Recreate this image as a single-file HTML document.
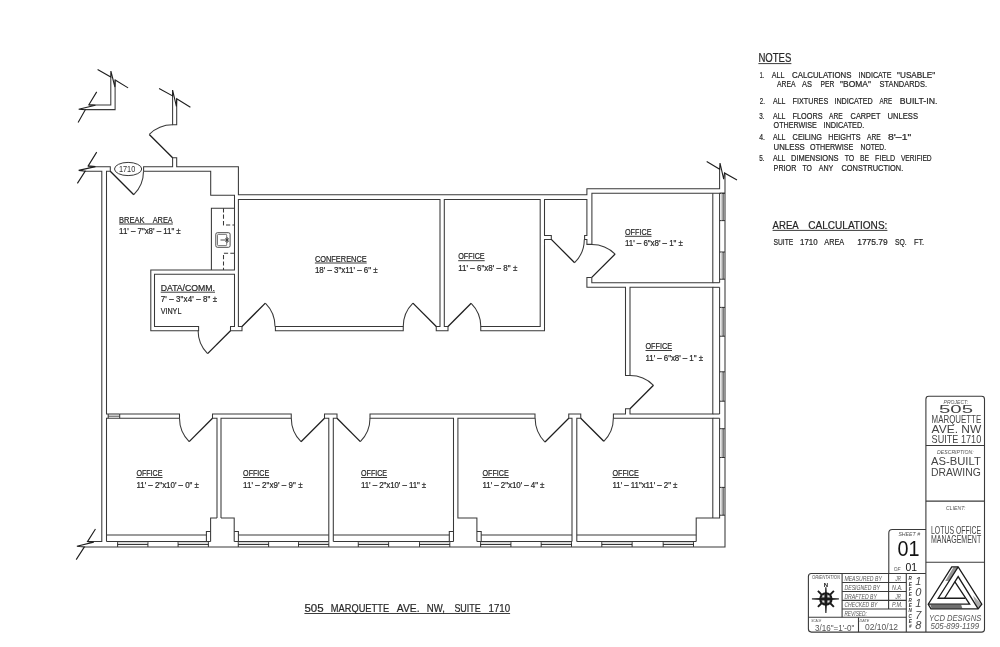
<!DOCTYPE html>
<html><head><meta charset="utf-8"><title>505 Marquette Ave. NW, Suite 1710</title>
<style>html,body{margin:0;padding:0;background:#fff}body{width:1000px;height:647px;overflow:hidden;font-family:"Liberation Sans",sans-serif}svg{display:block;will-change:transform;transform:translateZ(0)}text{white-space:pre}</style>
</head><body>
<svg width="1000" height="647" viewBox="0 0 1000 647">
<path d="M87.90,166.80 L110.30,166.80 L110.30,171.25 L106.50,171.25 L106.50,414.00 L108.20,414.00" fill="none" stroke="#383838" stroke-width="1.05" />
<path d="M84.60,171.25 L101.80,171.25 L101.80,541.50 L87.50,541.50" fill="none" stroke="#383838" stroke-width="1.05" />
<path d="M84.20,546.90 L725.00,546.90 L725.00,172.90" fill="none" stroke="#383838" stroke-width="1.05" />
<path d="M143.60,171.25 L143.60,166.80 L172.60,166.80 L172.60,157.80 L176.70,157.80 L176.70,166.80 L238.40,166.80 L238.40,194.70 L586.90,194.70 L586.90,188.70 L719.60,188.70 L719.60,169.20" fill="none" stroke="#383838" stroke-width="1.05" />
<path d="M172.60,95.90 L172.60,124.80 L176.70,124.80 L176.70,98.80" fill="none" stroke="#383838" stroke-width="1.05" />
<path d="M143.60,171.25 L210.70,171.25 L210.70,195.30 L234.50,195.30 L234.50,270.00 L150.80,270.00 L150.80,330.70 L198.60,330.70 L198.60,326.50 L154.50,326.50 L154.50,274.30 L234.50,274.30 L234.50,326.50 L230.50,326.50 L230.50,330.70 L242.00,330.70 L242.00,326.50 L238.40,326.50 L238.40,199.50 L440.00,199.50 L440.00,326.50 L436.25,326.50 L436.25,330.70 L448.00,330.70 L448.00,326.50 L444.30,326.50 L444.30,199.50 L540.20,199.50 L540.20,326.50 L480.75,326.50 L480.75,330.70 L544.50,330.70 L544.50,239.40 L551.30,239.40 L551.30,235.40 L544.50,235.40 L544.50,199.50 L586.90,199.50 L586.90,235.50 L584.60,235.50 L584.60,239.50 L586.90,239.50 L586.90,244.35 L591.90,244.35 L591.90,193.20 L725.00,193.20" fill="none" stroke="#383838" stroke-width="1.05" />
<path d="M275.40,326.50 L403.25,326.50 L403.25,330.70 L275.40,330.70 Z" fill="none" stroke="#383838" stroke-width="1.05" />
<path d="M211.40,270.00 L211.40,208.20 L234.50,208.20" fill="none" stroke="#383838" stroke-width="1.05" />
<path d="M223.50,208.20 L223.50,224.90 L234.50,224.90" fill="none" stroke="#383838" stroke-width="1.05" stroke-dasharray="4.2 2.2"/>
<path d="M234.50,253.20 L223.50,253.20 L223.50,270.00" fill="none" stroke="#383838" stroke-width="1.05" stroke-dasharray="4.2 2.2"/>
<rect x="215.8" y="232.7" width="14.3" height="14.6" rx="1.6" fill="none" stroke="#383838" stroke-width="0.9"/>
<rect x="217.5" y="234.4" width="9.2" height="11.2" rx="0.8" fill="none" stroke="#555" stroke-width="0.8"/>
<path d="M220.50,240.00 L228.60,240.00" fill="none" stroke="#383838" stroke-width="0.9" />
<path d="M227.20,237.20 L227.20,242.80" fill="none" stroke="#383838" stroke-width="0.9" />
<path d="M225.20,238.20 L229.00,241.80" fill="none" stroke="#383838" stroke-width="0.7" />
<path d="M225.20,241.80 L229.00,238.20" fill="none" stroke="#383838" stroke-width="0.7" />
<path d="M591.80,277.40 L586.90,277.40 L586.90,287.30 L625.50,287.30 L625.50,375.50 L630.00,375.50 L630.00,287.30 L712.80,287.30 L712.80,414.00 L630.00,414.00 L630.00,408.75 L625.50,408.75 L625.50,414.00 L613.40,414.00 L613.40,418.25 L712.80,418.25 L712.80,518.00" fill="none" stroke="#383838" stroke-width="1.05" />
<path d="M591.80,277.40 L591.80,282.70 L712.80,282.70 L712.80,193.20" fill="none" stroke="#383838" stroke-width="1.05" />
<path d="M719.60,193.20 L719.60,282.70" fill="none" stroke="#383838" stroke-width="1.05" />
<path d="M712.80,282.70 L719.60,282.70" fill="none" stroke="#383838" stroke-width="1.05" />
<path d="M712.80,287.30 L719.60,287.30" fill="none" stroke="#383838" stroke-width="1.05" />
<path d="M719.60,287.30 L719.60,414.00" fill="none" stroke="#383838" stroke-width="1.05" />
<path d="M712.80,414.00 L719.60,414.00" fill="none" stroke="#383838" stroke-width="1.05" />
<path d="M712.80,418.25 L719.60,418.25" fill="none" stroke="#383838" stroke-width="1.05" />
<path d="M719.60,418.25 L719.60,518.00 L696.20,518.00 L696.20,541.40" fill="none" stroke="#383838" stroke-width="1.05" />
<path d="M106.50,541.40 L106.50,418.25 L179.50,418.25 L179.50,414.00 L119.70,414.00" fill="none" stroke="#383838" stroke-width="1.05" />
<path d="M108.20,414.00 L119.70,414.00" fill="none" stroke="#383838" stroke-width="1.05" />
<path d="M108.20,414.00 L108.20,418.25" fill="none" stroke="#383838" stroke-width="1.05" />
<path d="M119.70,414.00 L119.70,418.25" fill="none" stroke="#383838" stroke-width="1.05" />
<path d="M108.20,416.20 L119.70,416.20" fill="none" stroke="#383838" stroke-width="0.9" />
<path d="M217.00,518.00 L217.00,418.25 L212.50,418.25 L212.50,414.00 L291.25,414.00 L291.25,418.25 L221.00,418.25 L221.00,518.00" fill="none" stroke="#383838" stroke-width="1.05" />
<path d="M328.80,541.40 L328.80,418.25 L324.50,418.25 L324.50,414.00 L337.00,414.00 L337.00,418.25 L333.30,418.25 L333.30,541.40" fill="none" stroke="#383838" stroke-width="1.05" />
<path d="M453.50,541.40 L453.50,418.25 L370.00,418.25 L370.00,414.00 L535.00,414.00 L535.00,418.25 L457.90,418.25 L457.90,518.00 L476.90,518.00 L476.90,541.40" fill="none" stroke="#383838" stroke-width="1.05" />
<path d="M572.00,541.40 L572.00,418.25 L568.75,418.25 L568.75,414.00 L580.75,414.00 L580.75,418.25 L576.80,418.25 L576.80,541.40" fill="none" stroke="#383838" stroke-width="1.05" />
<path d="M217.00,518.00 L210.60,518.00 L210.60,541.40" fill="none" stroke="#383838" stroke-width="1.05" />
<path d="M221.00,518.00 L234.20,518.00 L234.20,541.40" fill="none" stroke="#383838" stroke-width="1.05" />
<path d="M206.40,541.40 L206.40,531.50 L210.60,531.50" fill="none" stroke="#383838" stroke-width="1.05" />
<path d="M238.40,541.40 L238.40,531.50 L234.20,531.50" fill="none" stroke="#383838" stroke-width="1.05" />
<path d="M449.30,541.40 L449.30,531.50 L453.50,531.50" fill="none" stroke="#383838" stroke-width="1.05" />
<path d="M481.20,541.40 L481.20,531.50 L476.90,531.50" fill="none" stroke="#383838" stroke-width="1.05" />
<path d="M106.50,541.40 L210.60,541.40" fill="none" stroke="#383838" stroke-width="1.05" />
<path d="M106.50,535.00 L206.40,535.00" fill="none" stroke="#383838" stroke-width="1.05" />
<path d="M234.20,541.40 L328.80,541.40" fill="none" stroke="#383838" stroke-width="1.05" />
<path d="M238.40,535.00 L328.80,535.00" fill="none" stroke="#383838" stroke-width="1.05" />
<path d="M333.30,541.40 L453.50,541.40" fill="none" stroke="#383838" stroke-width="1.05" />
<path d="M333.30,535.00 L449.30,535.00" fill="none" stroke="#383838" stroke-width="1.05" />
<path d="M476.90,541.40 L572.00,541.40" fill="none" stroke="#383838" stroke-width="1.05" />
<path d="M481.20,535.00 L572.00,535.00" fill="none" stroke="#383838" stroke-width="1.05" />
<path d="M576.80,541.40 L696.20,541.40" fill="none" stroke="#383838" stroke-width="1.05" />
<path d="M576.80,535.00 L696.20,535.00" fill="none" stroke="#383838" stroke-width="1.05" />
<path d="M117.60,541.40 L117.60,546.90" fill="none" stroke="#383838" stroke-width="1.05" />
<path d="M147.90,541.40 L147.90,546.90" fill="none" stroke="#383838" stroke-width="1.05" />
<path d="M117.60,544.40 L147.90,544.40" fill="none" stroke="#222" stroke-width="1.0" />
<path d="M117.60,542.70 L147.90,542.70" fill="none" stroke="#aaa" stroke-width="0.6" />
<path d="M178.10,541.40 L178.10,546.90" fill="none" stroke="#383838" stroke-width="1.05" />
<path d="M208.40,541.40 L208.40,546.90" fill="none" stroke="#383838" stroke-width="1.05" />
<path d="M178.10,544.40 L208.40,544.40" fill="none" stroke="#222" stroke-width="1.0" />
<path d="M178.10,542.70 L208.40,542.70" fill="none" stroke="#aaa" stroke-width="0.6" />
<path d="M238.30,541.40 L238.30,546.90" fill="none" stroke="#383838" stroke-width="1.05" />
<path d="M268.60,541.40 L268.60,546.90" fill="none" stroke="#383838" stroke-width="1.05" />
<path d="M238.30,544.40 L268.60,544.40" fill="none" stroke="#222" stroke-width="1.0" />
<path d="M238.30,542.70 L268.60,542.70" fill="none" stroke="#aaa" stroke-width="0.6" />
<path d="M298.50,541.40 L298.50,546.90" fill="none" stroke="#383838" stroke-width="1.05" />
<path d="M328.80,541.40 L328.80,546.90" fill="none" stroke="#383838" stroke-width="1.05" />
<path d="M298.50,544.40 L328.80,544.40" fill="none" stroke="#222" stroke-width="1.0" />
<path d="M298.50,542.70 L328.80,542.70" fill="none" stroke="#aaa" stroke-width="0.6" />
<path d="M358.30,541.40 L358.30,546.90" fill="none" stroke="#383838" stroke-width="1.05" />
<path d="M388.60,541.40 L388.60,546.90" fill="none" stroke="#383838" stroke-width="1.05" />
<path d="M358.30,544.40 L388.60,544.40" fill="none" stroke="#222" stroke-width="1.0" />
<path d="M358.30,542.70 L388.60,542.70" fill="none" stroke="#aaa" stroke-width="0.6" />
<path d="M419.50,541.40 L419.50,546.90" fill="none" stroke="#383838" stroke-width="1.05" />
<path d="M449.80,541.40 L449.80,546.90" fill="none" stroke="#383838" stroke-width="1.05" />
<path d="M419.50,544.40 L449.80,544.40" fill="none" stroke="#222" stroke-width="1.0" />
<path d="M419.50,542.70 L449.80,542.70" fill="none" stroke="#aaa" stroke-width="0.6" />
<path d="M480.60,541.40 L480.60,546.90" fill="none" stroke="#383838" stroke-width="1.05" />
<path d="M510.90,541.40 L510.90,546.90" fill="none" stroke="#383838" stroke-width="1.05" />
<path d="M480.60,544.40 L510.90,544.40" fill="none" stroke="#222" stroke-width="1.0" />
<path d="M480.60,542.70 L510.90,542.70" fill="none" stroke="#aaa" stroke-width="0.6" />
<path d="M541.20,541.40 L541.20,546.90" fill="none" stroke="#383838" stroke-width="1.05" />
<path d="M571.50,541.40 L571.50,546.90" fill="none" stroke="#383838" stroke-width="1.05" />
<path d="M541.20,544.40 L571.50,544.40" fill="none" stroke="#222" stroke-width="1.0" />
<path d="M541.20,542.70 L571.50,542.70" fill="none" stroke="#aaa" stroke-width="0.6" />
<path d="M601.80,541.40 L601.80,546.90" fill="none" stroke="#383838" stroke-width="1.05" />
<path d="M632.10,541.40 L632.10,546.90" fill="none" stroke="#383838" stroke-width="1.05" />
<path d="M601.80,544.40 L632.10,544.40" fill="none" stroke="#222" stroke-width="1.0" />
<path d="M601.80,542.70 L632.10,542.70" fill="none" stroke="#aaa" stroke-width="0.6" />
<path d="M663.20,541.40 L663.20,546.90" fill="none" stroke="#383838" stroke-width="1.05" />
<path d="M693.50,541.40 L693.50,546.90" fill="none" stroke="#383838" stroke-width="1.05" />
<path d="M663.20,544.40 L693.50,544.40" fill="none" stroke="#222" stroke-width="1.0" />
<path d="M663.20,542.70 L693.50,542.70" fill="none" stroke="#aaa" stroke-width="0.6" />
<path d="M719.60,193.20 L725.00,193.20" fill="none" stroke="#383838" stroke-width="1.05" />
<path d="M719.60,220.60 L725.00,220.60" fill="none" stroke="#383838" stroke-width="1.05" />
<path d="M723.10,193.20 L723.10,220.60" fill="none" stroke="#222" stroke-width="1.0" />
<path d="M721.50,193.20 L721.50,220.60" fill="none" stroke="#aaa" stroke-width="0.6" />
<path d="M719.60,252.00 L725.00,252.00" fill="none" stroke="#383838" stroke-width="1.05" />
<path d="M719.60,279.20 L725.00,279.20" fill="none" stroke="#383838" stroke-width="1.05" />
<path d="M723.10,252.00 L723.10,279.20" fill="none" stroke="#222" stroke-width="1.0" />
<path d="M721.50,252.00 L721.50,279.20" fill="none" stroke="#aaa" stroke-width="0.6" />
<path d="M719.60,307.40 L725.00,307.40" fill="none" stroke="#383838" stroke-width="1.05" />
<path d="M719.60,336.20 L725.00,336.20" fill="none" stroke="#383838" stroke-width="1.05" />
<path d="M723.10,307.40 L723.10,336.20" fill="none" stroke="#222" stroke-width="1.0" />
<path d="M721.50,307.40 L721.50,336.20" fill="none" stroke="#aaa" stroke-width="0.6" />
<path d="M719.60,371.80 L725.00,371.80" fill="none" stroke="#383838" stroke-width="1.05" />
<path d="M719.60,401.20 L725.00,401.20" fill="none" stroke="#383838" stroke-width="1.05" />
<path d="M723.10,371.80 L723.10,401.20" fill="none" stroke="#222" stroke-width="1.0" />
<path d="M721.50,371.80 L721.50,401.20" fill="none" stroke="#aaa" stroke-width="0.6" />
<path d="M719.60,428.70 L725.00,428.70" fill="none" stroke="#383838" stroke-width="1.05" />
<path d="M719.60,457.50 L725.00,457.50" fill="none" stroke="#383838" stroke-width="1.05" />
<path d="M723.10,428.70 L723.10,457.50" fill="none" stroke="#222" stroke-width="1.0" />
<path d="M721.50,428.70 L721.50,457.50" fill="none" stroke="#aaa" stroke-width="0.6" />
<path d="M719.60,487.40 L725.00,487.40" fill="none" stroke="#383838" stroke-width="1.05" />
<path d="M719.60,515.20 L725.00,515.20" fill="none" stroke="#383838" stroke-width="1.05" />
<path d="M723.10,487.40 L723.10,515.20" fill="none" stroke="#222" stroke-width="1.0" />
<path d="M721.50,487.40 L721.50,515.20" fill="none" stroke="#aaa" stroke-width="0.6" />
<path d="M110.30,171.25 L133.78,194.73" fill="none" stroke="#1e1e1e" stroke-width="1.28"/>
<path d="M133.78,194.73 A33.2,33.2 0 0 0 143.50,171.25" fill="none" stroke="#383838" stroke-width="1.05"/>
<path d="M172.60,157.80 L149.27,134.47" fill="none" stroke="#1e1e1e" stroke-width="1.28"/>
<path d="M149.27,134.47 A33,33 0 0 1 172.60,124.80" fill="none" stroke="#383838" stroke-width="1.05"/>
<path d="M230.50,330.70 L207.59,353.61" fill="none" stroke="#1e1e1e" stroke-width="1.28"/>
<path d="M207.59,353.61 A32.4,32.4 0 0 1 198.10,330.70" fill="none" stroke="#383838" stroke-width="1.05"/>
<path d="M242.00,326.50 L265.33,303.17" fill="none" stroke="#1e1e1e" stroke-width="1.28"/>
<path d="M265.33,303.17 A33,33 0 0 1 275.00,326.50" fill="none" stroke="#383838" stroke-width="1.05"/>
<path d="M436.25,326.50 L412.92,303.17" fill="none" stroke="#1e1e1e" stroke-width="1.28"/>
<path d="M412.92,303.17 A33,33 0 0 0 403.25,326.50" fill="none" stroke="#383838" stroke-width="1.05"/>
<path d="M448.00,326.50 L471.19,303.31" fill="none" stroke="#1e1e1e" stroke-width="1.28"/>
<path d="M471.19,303.31 A32.8,32.8 0 0 1 480.80,326.50" fill="none" stroke="#383838" stroke-width="1.05"/>
<path d="M551.30,239.40 L574.63,262.73" fill="none" stroke="#1e1e1e" stroke-width="1.28"/>
<path d="M574.63,262.73 A33,33 0 0 0 584.30,239.40" fill="none" stroke="#383838" stroke-width="1.05"/>
<path d="M591.80,277.40 L615.13,254.07" fill="none" stroke="#1e1e1e" stroke-width="1.28"/>
<path d="M615.13,254.07 A33,33 0 0 0 591.80,244.40" fill="none" stroke="#383838" stroke-width="1.05"/>
<path d="M630.00,408.75 L653.48,385.27" fill="none" stroke="#1e1e1e" stroke-width="1.28"/>
<path d="M653.48,385.27 A33.2,33.2 0 0 0 630.00,375.55" fill="none" stroke="#383838" stroke-width="1.05"/>
<path d="M212.50,418.25 L189.17,441.58" fill="none" stroke="#1e1e1e" stroke-width="1.28"/>
<path d="M189.17,441.58 A33,33 0 0 1 179.50,418.25" fill="none" stroke="#383838" stroke-width="1.05"/>
<path d="M324.50,418.25 L301.02,441.73" fill="none" stroke="#1e1e1e" stroke-width="1.28"/>
<path d="M301.02,441.73 A33.2,33.2 0 0 1 291.30,418.25" fill="none" stroke="#383838" stroke-width="1.05"/>
<path d="M337.00,418.25 L360.33,441.58" fill="none" stroke="#1e1e1e" stroke-width="1.28"/>
<path d="M360.33,441.58 A33,33 0 0 0 370.00,418.25" fill="none" stroke="#383838" stroke-width="1.05"/>
<path d="M568.75,418.25 L544.99,442.01" fill="none" stroke="#1e1e1e" stroke-width="1.28"/>
<path d="M544.99,442.01 A33.6,33.6 0 0 1 535.15,418.25" fill="none" stroke="#383838" stroke-width="1.05"/>
<path d="M580.75,418.25 L603.80,441.30" fill="none" stroke="#1e1e1e" stroke-width="1.28"/>
<path d="M603.80,441.30 A32.6,32.6 0 0 0 613.35,418.25" fill="none" stroke="#383838" stroke-width="1.05"/>
<path d="M97.60,69.50 L110.80,77.10 L110.90,71.10 L114.90,87.00 L115.20,80.00 L128.10,87.90" fill="none" stroke="#1e1e1e" stroke-width="1.1" />
<path d="M110.80,77.10 L110.80,104.90 L88.90,104.90" fill="none" stroke="#383838" stroke-width="1.05" />
<path d="M115.10,80.00 L115.10,109.60 L85.10,109.60" fill="none" stroke="#383838" stroke-width="1.05" />
<path d="M96.70,91.90 L88.90,104.70 L95.40,105.30 L78.70,109.20 L85.30,109.70 L78.10,122.50" fill="none" stroke="#1e1e1e" stroke-width="1.1" />
<path d="M96.70,152.10 L88.20,165.90 L95.40,166.60 L78.70,170.40 L85.20,171.10 L77.40,183.40" fill="none" stroke="#1e1e1e" stroke-width="1.1" />
<path d="M159.10,88.40 L172.60,95.90 L172.60,90.00 L176.40,106.40 L176.70,98.80 L190.40,107.20" fill="none" stroke="#1e1e1e" stroke-width="1.1" />
<path d="M706.70,161.50 L719.70,169.20 L720.00,163.00 L723.70,179.10 L724.50,172.90 L737.00,180.10" fill="none" stroke="#1e1e1e" stroke-width="1.1" />
<path d="M95.45,529.00 L87.50,541.60 L93.75,542.10 L76.90,546.30 L84.40,546.90 L76.20,559.65" fill="none" stroke="#1e1e1e" stroke-width="1.1" />
<ellipse cx="128.1" cy="169.0" rx="13.6" ry="6.6" fill="#fff" stroke="#383838" stroke-width="1"/>
<text x="118.9" y="172.4" textLength="16.4" lengthAdjust="spacingAndGlyphs" font-family="'Liberation Sans', sans-serif" font-size="9.2" fill="#333" font-weight="400" text-anchor="start" >1710</text>
<text x="119.1" y="222.7" textLength="25.5" lengthAdjust="spacingAndGlyphs" font-family="'Liberation Sans', sans-serif" font-size="9.5" fill="#262626" font-weight="400" text-anchor="start"  stroke="#262626" stroke-width="0.22">BREAK</text>
<text x="152.7" y="222.7" textLength="20.1" lengthAdjust="spacingAndGlyphs" font-family="'Liberation Sans', sans-serif" font-size="9.5" fill="#262626" font-weight="400" text-anchor="start"  stroke="#262626" stroke-width="0.22">AREA</text>
<path d="M119.10,224.00 L172.80,224.00" fill="none" stroke="#262626" stroke-width="0.9" />
<text transform="translate(119.1,234.2) scale(0.86,1)" x="0" y="0" textLength="71.7" lengthAdjust="spacing" font-family="'Liberation Sans', sans-serif" font-size="9.3" fill="#262626"  stroke="#262626" stroke-width="0.22">11' – 7"x8' – 11" ±</text>
<text x="160.7" y="290.9" textLength="54.3" lengthAdjust="spacingAndGlyphs" font-family="'Liberation Sans', sans-serif" font-size="9.6" fill="#262626" font-weight="400" text-anchor="start"  stroke="#262626" stroke-width="0.22">DATA/COMM.</text>
<path d="M160.70,292.20 L215.00,292.20" fill="none" stroke="#262626" stroke-width="0.9" />
<text transform="translate(160.7,302.1) scale(0.86,1)" x="0" y="0" textLength="65.7" lengthAdjust="spacing" font-family="'Liberation Sans', sans-serif" font-size="9.3" fill="#262626"  stroke="#262626" stroke-width="0.22">7' – 3"x4' – 8" ±</text>
<text x="160.7" y="314.0" textLength="20.7" lengthAdjust="spacingAndGlyphs" font-family="'Liberation Sans', sans-serif" font-size="9.4" fill="#262626" font-weight="400" text-anchor="start"  stroke="#262626" stroke-width="0.22">VINYL</text>
<text x="314.9" y="261.7" textLength="51.8" lengthAdjust="spacingAndGlyphs" font-family="'Liberation Sans', sans-serif" font-size="9.5" fill="#262626" font-weight="400" text-anchor="start"  stroke="#262626" stroke-width="0.22">CONFERENCE</text>
<path d="M314.90,263.00 L366.70,263.00" fill="none" stroke="#262626" stroke-width="0.9" />
<text transform="translate(314.9,273.0) scale(0.86,1)" x="0" y="0" textLength="73.0" lengthAdjust="spacing" font-family="'Liberation Sans', sans-serif" font-size="9.3" fill="#262626"  stroke="#262626" stroke-width="0.22">18' – 3"x11' – 6" ±</text>
<text x="458.2" y="259.4" textLength="26.5" lengthAdjust="spacingAndGlyphs" font-family="'Liberation Sans', sans-serif" font-size="9.5" fill="#262626" font-weight="400" text-anchor="start"  stroke="#262626" stroke-width="0.22">OFFICE</text>
<path d="M458.20,260.70 L484.70,260.70" fill="none" stroke="#262626" stroke-width="0.9" />
<text transform="translate(458.2,270.7) scale(0.86,1)" x="0" y="0" textLength="68.7" lengthAdjust="spacing" font-family="'Liberation Sans', sans-serif" font-size="9.3" fill="#262626"  stroke="#262626" stroke-width="0.22">11' – 6"x8' – 8" ±</text>
<text x="625.0" y="235.0" textLength="26.5" lengthAdjust="spacingAndGlyphs" font-family="'Liberation Sans', sans-serif" font-size="9.5" fill="#262626" font-weight="400" text-anchor="start"  stroke="#262626" stroke-width="0.22">OFFICE</text>
<path d="M625.00,236.30 L651.50,236.30" fill="none" stroke="#262626" stroke-width="0.9" />
<text transform="translate(625.0,246.3) scale(0.86,1)" x="0" y="0" textLength="67.4" lengthAdjust="spacing" font-family="'Liberation Sans', sans-serif" font-size="9.3" fill="#262626"  stroke="#262626" stroke-width="0.22">11' – 6"x8' – 1" ±</text>
<text x="645.5" y="349.2" textLength="26.5" lengthAdjust="spacingAndGlyphs" font-family="'Liberation Sans', sans-serif" font-size="9.5" fill="#262626" font-weight="400" text-anchor="start"  stroke="#262626" stroke-width="0.22">OFFICE</text>
<path d="M645.50,350.50 L672.00,350.50" fill="none" stroke="#262626" stroke-width="0.9" />
<text transform="translate(645.5,360.5) scale(0.86,1)" x="0" y="0" textLength="66.9" lengthAdjust="spacing" font-family="'Liberation Sans', sans-serif" font-size="9.3" fill="#262626"  stroke="#262626" stroke-width="0.22">11' – 6"x8' – 1" ±</text>
<text x="136.4" y="476.2" textLength="26.1" lengthAdjust="spacingAndGlyphs" font-family="'Liberation Sans', sans-serif" font-size="9.5" fill="#262626" font-weight="400" text-anchor="start"  stroke="#262626" stroke-width="0.22">OFFICE</text>
<path d="M136.40,477.50 L162.50,477.50" fill="none" stroke="#262626" stroke-width="0.9" />
<text transform="translate(136.4,487.5) scale(0.86,1)" x="0" y="0" textLength="72.8" lengthAdjust="spacing" font-family="'Liberation Sans', sans-serif" font-size="9.3" fill="#262626"  stroke="#262626" stroke-width="0.22">11' – 2"x10' – 0" ±</text>
<text x="243.1" y="476.2" textLength="26.1" lengthAdjust="spacingAndGlyphs" font-family="'Liberation Sans', sans-serif" font-size="9.5" fill="#262626" font-weight="400" text-anchor="start"  stroke="#262626" stroke-width="0.22">OFFICE</text>
<path d="M243.10,477.50 L269.20,477.50" fill="none" stroke="#262626" stroke-width="0.9" />
<text transform="translate(243.1,487.5) scale(0.86,1)" x="0" y="0" textLength="69.2" lengthAdjust="spacing" font-family="'Liberation Sans', sans-serif" font-size="9.3" fill="#262626"  stroke="#262626" stroke-width="0.22">11' – 2"x9' – 9" ±</text>
<text x="361.0" y="476.2" textLength="26.1" lengthAdjust="spacingAndGlyphs" font-family="'Liberation Sans', sans-serif" font-size="9.5" fill="#262626" font-weight="400" text-anchor="start"  stroke="#262626" stroke-width="0.22">OFFICE</text>
<path d="M361.00,477.50 L387.10,477.50" fill="none" stroke="#262626" stroke-width="0.9" />
<text transform="translate(361.0,487.5) scale(0.86,1)" x="0" y="0" textLength="75.9" lengthAdjust="spacing" font-family="'Liberation Sans', sans-serif" font-size="9.3" fill="#262626"  stroke="#262626" stroke-width="0.22">11' – 2"x10' – 11" ±</text>
<text x="482.5" y="476.2" textLength="26.2" lengthAdjust="spacingAndGlyphs" font-family="'Liberation Sans', sans-serif" font-size="9.5" fill="#262626" font-weight="400" text-anchor="start"  stroke="#262626" stroke-width="0.22">OFFICE</text>
<path d="M482.50,477.50 L508.70,477.50" fill="none" stroke="#262626" stroke-width="0.9" />
<text transform="translate(482.5,487.5) scale(0.86,1)" x="0" y="0" textLength="72.1" lengthAdjust="spacing" font-family="'Liberation Sans', sans-serif" font-size="9.3" fill="#262626"  stroke="#262626" stroke-width="0.22">11' – 2"x10' – 4" ±</text>
<text x="612.5" y="476.2" textLength="26.2" lengthAdjust="spacingAndGlyphs" font-family="'Liberation Sans', sans-serif" font-size="9.5" fill="#262626" font-weight="400" text-anchor="start"  stroke="#262626" stroke-width="0.22">OFFICE</text>
<path d="M612.50,477.50 L638.70,477.50" fill="none" stroke="#262626" stroke-width="0.9" />
<text transform="translate(612.5,487.5) scale(0.86,1)" x="0" y="0" textLength="75.6" lengthAdjust="spacing" font-family="'Liberation Sans', sans-serif" font-size="9.3" fill="#262626"  stroke="#262626" stroke-width="0.22">11' – 11"x11' – 2" ±</text>
<text x="304.4" y="612.1" textLength="19.2" lengthAdjust="spacingAndGlyphs" font-family="'Liberation Sans', sans-serif" font-size="11.8" fill="#262626" font-weight="400" text-anchor="start"  stroke="#262626" stroke-width="0.22">505</text>
<text x="330.8" y="612.1" textLength="58.3" lengthAdjust="spacingAndGlyphs" font-family="'Liberation Sans', sans-serif" font-size="11.8" fill="#262626" font-weight="400" text-anchor="start"  stroke="#262626" stroke-width="0.22">MARQUETTE</text>
<text x="396.8" y="612.1" textLength="22.8" lengthAdjust="spacingAndGlyphs" font-family="'Liberation Sans', sans-serif" font-size="11.8" fill="#262626" font-weight="400" text-anchor="start"  stroke="#262626" stroke-width="0.22">AVE.</text>
<text x="426.8" y="612.1" textLength="18.0" lengthAdjust="spacingAndGlyphs" font-family="'Liberation Sans', sans-serif" font-size="11.8" fill="#262626" font-weight="400" text-anchor="start"  stroke="#262626" stroke-width="0.22">NW,</text>
<text x="454.4" y="612.1" textLength="26.4" lengthAdjust="spacingAndGlyphs" font-family="'Liberation Sans', sans-serif" font-size="11.8" fill="#262626" font-weight="400" text-anchor="start"  stroke="#262626" stroke-width="0.22">SUITE</text>
<text x="488.5" y="612.1" textLength="21.6" lengthAdjust="spacingAndGlyphs" font-family="'Liberation Sans', sans-serif" font-size="11.8" fill="#262626" font-weight="400" text-anchor="start"  stroke="#262626" stroke-width="0.22">1710</text>
<path d="M304.40,613.50 L510.10,613.50" fill="none" stroke="#262626" stroke-width="0.9" />
<text x="758.4" y="62.0" textLength="33.0" lengthAdjust="spacingAndGlyphs" font-family="'Liberation Sans', sans-serif" font-size="12.0" fill="#262626" font-weight="400" text-anchor="start"  stroke="#262626" stroke-width="0.22">NOTES</text>
<path d="M758.40,63.60 L791.40,63.60" fill="none" stroke="#262626" stroke-width="0.9" />
<text x="759.8" y="77.7" textLength="4.4" lengthAdjust="spacingAndGlyphs" font-family="'Liberation Sans', sans-serif" font-size="9.2" fill="#262626" font-weight="400" text-anchor="start"  stroke="#262626" stroke-width="0.22">1.</text>
<text x="771.7" y="77.7" textLength="12.8" lengthAdjust="spacingAndGlyphs" font-family="'Liberation Sans', sans-serif" font-size="9.2" fill="#262626" font-weight="400" text-anchor="start"  stroke="#262626" stroke-width="0.22">ALL</text>
<text x="792.0" y="77.7" textLength="59.5" lengthAdjust="spacingAndGlyphs" font-family="'Liberation Sans', sans-serif" font-size="9.2" fill="#262626" font-weight="400" text-anchor="start"  stroke="#262626" stroke-width="0.22">CALCULATIONS</text>
<text x="858.6" y="77.7" textLength="32.8" lengthAdjust="spacingAndGlyphs" font-family="'Liberation Sans', sans-serif" font-size="9.2" fill="#262626" font-weight="400" text-anchor="start"  stroke="#262626" stroke-width="0.22">INDICATE</text>
<text x="897.1" y="77.7" textLength="38.0" lengthAdjust="spacingAndGlyphs" font-family="'Liberation Sans', sans-serif" font-size="9.2" fill="#262626" font-weight="400" text-anchor="start"  stroke="#262626" stroke-width="0.22">"USABLE"</text>
<text x="776.9" y="87.0" textLength="18.6" lengthAdjust="spacingAndGlyphs" font-family="'Liberation Sans', sans-serif" font-size="9.2" fill="#262626" font-weight="400" text-anchor="start"  stroke="#262626" stroke-width="0.22">AREA</text>
<text x="802.1" y="87.0" textLength="9.9" lengthAdjust="spacingAndGlyphs" font-family="'Liberation Sans', sans-serif" font-size="9.2" fill="#262626" font-weight="400" text-anchor="start"  stroke="#262626" stroke-width="0.22">AS</text>
<text x="820.6" y="87.0" textLength="13.8" lengthAdjust="spacingAndGlyphs" font-family="'Liberation Sans', sans-serif" font-size="9.2" fill="#262626" font-weight="400" text-anchor="start"  stroke="#262626" stroke-width="0.22">PER</text>
<text x="840.1" y="87.0" textLength="30.8" lengthAdjust="spacingAndGlyphs" font-family="'Liberation Sans', sans-serif" font-size="9.2" fill="#262626" font-weight="400" text-anchor="start"  stroke="#262626" stroke-width="0.22">"BOMA"</text>
<text x="879.5" y="87.0" textLength="47.5" lengthAdjust="spacingAndGlyphs" font-family="'Liberation Sans', sans-serif" font-size="9.2" fill="#262626" font-weight="400" text-anchor="start"  stroke="#262626" stroke-width="0.22">STANDARDS.</text>
<text x="759.8" y="103.8" textLength="5.1" lengthAdjust="spacingAndGlyphs" font-family="'Liberation Sans', sans-serif" font-size="9.2" fill="#262626" font-weight="400" text-anchor="start"  stroke="#262626" stroke-width="0.22">2.</text>
<text x="773.0" y="103.8" textLength="12.4" lengthAdjust="spacingAndGlyphs" font-family="'Liberation Sans', sans-serif" font-size="9.2" fill="#262626" font-weight="400" text-anchor="start"  stroke="#262626" stroke-width="0.22">ALL</text>
<text x="792.6" y="103.8" textLength="35.6" lengthAdjust="spacingAndGlyphs" font-family="'Liberation Sans', sans-serif" font-size="9.2" fill="#262626" font-weight="400" text-anchor="start"  stroke="#262626" stroke-width="0.22">FIXTURES</text>
<text x="834.4" y="103.8" textLength="38.4" lengthAdjust="spacingAndGlyphs" font-family="'Liberation Sans', sans-serif" font-size="9.2" fill="#262626" font-weight="400" text-anchor="start"  stroke="#262626" stroke-width="0.22">INDICATED</text>
<text x="879.5" y="103.8" textLength="12.7" lengthAdjust="spacingAndGlyphs" font-family="'Liberation Sans', sans-serif" font-size="9.2" fill="#262626" font-weight="400" text-anchor="start"  stroke="#262626" stroke-width="0.22">ARE</text>
<text x="899.8" y="103.8" textLength="37.6" lengthAdjust="spacingAndGlyphs" font-family="'Liberation Sans', sans-serif" font-size="9.2" fill="#262626" font-weight="400" text-anchor="start"  stroke="#262626" stroke-width="0.22">BUILT-IN.</text>
<text x="759.2" y="118.5" textLength="5.3" lengthAdjust="spacingAndGlyphs" font-family="'Liberation Sans', sans-serif" font-size="9.2" fill="#262626" font-weight="400" text-anchor="start"  stroke="#262626" stroke-width="0.22">3.</text>
<text x="773.0" y="118.5" textLength="12.4" lengthAdjust="spacingAndGlyphs" font-family="'Liberation Sans', sans-serif" font-size="9.2" fill="#262626" font-weight="400" text-anchor="start"  stroke="#262626" stroke-width="0.22">ALL</text>
<text x="792.6" y="118.5" textLength="29.9" lengthAdjust="spacingAndGlyphs" font-family="'Liberation Sans', sans-serif" font-size="9.2" fill="#262626" font-weight="400" text-anchor="start"  stroke="#262626" stroke-width="0.22">FLOORS</text>
<text x="829.1" y="118.5" textLength="13.7" lengthAdjust="spacingAndGlyphs" font-family="'Liberation Sans', sans-serif" font-size="9.2" fill="#262626" font-weight="400" text-anchor="start"  stroke="#262626" stroke-width="0.22">ARE</text>
<text x="850.6" y="118.5" textLength="29.8" lengthAdjust="spacingAndGlyphs" font-family="'Liberation Sans', sans-serif" font-size="9.2" fill="#262626" font-weight="400" text-anchor="start"  stroke="#262626" stroke-width="0.22">CARPET</text>
<text x="887.6" y="118.5" textLength="30.4" lengthAdjust="spacingAndGlyphs" font-family="'Liberation Sans', sans-serif" font-size="9.2" fill="#262626" font-weight="400" text-anchor="start"  stroke="#262626" stroke-width="0.22">UNLESS</text>
<text x="773.6" y="128.4" textLength="43.1" lengthAdjust="spacingAndGlyphs" font-family="'Liberation Sans', sans-serif" font-size="9.2" fill="#262626" font-weight="400" text-anchor="start"  stroke="#262626" stroke-width="0.22">OTHERWISE</text>
<text x="823.4" y="128.4" textLength="40.9" lengthAdjust="spacingAndGlyphs" font-family="'Liberation Sans', sans-serif" font-size="9.2" fill="#262626" font-weight="400" text-anchor="start"  stroke="#262626" stroke-width="0.22">INDICATED.</text>
<text x="759.2" y="140.0" textLength="5.7" lengthAdjust="spacingAndGlyphs" font-family="'Liberation Sans', sans-serif" font-size="9.2" fill="#262626" font-weight="400" text-anchor="start"  stroke="#262626" stroke-width="0.22">4.</text>
<text x="773.0" y="140.0" textLength="12.4" lengthAdjust="spacingAndGlyphs" font-family="'Liberation Sans', sans-serif" font-size="9.2" fill="#262626" font-weight="400" text-anchor="start"  stroke="#262626" stroke-width="0.22">ALL</text>
<text x="792.6" y="140.0" textLength="29.3" lengthAdjust="spacingAndGlyphs" font-family="'Liberation Sans', sans-serif" font-size="9.2" fill="#262626" font-weight="400" text-anchor="start"  stroke="#262626" stroke-width="0.22">CEILING</text>
<text x="828.2" y="140.0" textLength="32.3" lengthAdjust="spacingAndGlyphs" font-family="'Liberation Sans', sans-serif" font-size="9.2" fill="#262626" font-weight="400" text-anchor="start"  stroke="#262626" stroke-width="0.22">HEIGHTS</text>
<text x="867.1" y="140.0" textLength="13.7" lengthAdjust="spacingAndGlyphs" font-family="'Liberation Sans', sans-serif" font-size="9.2" fill="#262626" font-weight="400" text-anchor="start"  stroke="#262626" stroke-width="0.22">ARE</text>
<text x="888.0" y="140.0" textLength="23.2" lengthAdjust="spacingAndGlyphs" font-family="'Liberation Sans', sans-serif" font-size="9.2" fill="#262626" font-weight="400" text-anchor="start"  stroke="#262626" stroke-width="0.22">8'–1"</text>
<text x="773.6" y="149.8" textLength="31.2" lengthAdjust="spacingAndGlyphs" font-family="'Liberation Sans', sans-serif" font-size="9.2" fill="#262626" font-weight="400" text-anchor="start"  stroke="#262626" stroke-width="0.22">UNLESS</text>
<text x="810.1" y="149.8" textLength="43.3" lengthAdjust="spacingAndGlyphs" font-family="'Liberation Sans', sans-serif" font-size="9.2" fill="#262626" font-weight="400" text-anchor="start"  stroke="#262626" stroke-width="0.22">OTHERWISE</text>
<text x="860.5" y="149.8" textLength="25.6" lengthAdjust="spacingAndGlyphs" font-family="'Liberation Sans', sans-serif" font-size="9.2" fill="#262626" font-weight="400" text-anchor="start"  stroke="#262626" stroke-width="0.22">NOTED.</text>
<text x="759.2" y="160.6" textLength="5.3" lengthAdjust="spacingAndGlyphs" font-family="'Liberation Sans', sans-serif" font-size="9.2" fill="#262626" font-weight="400" text-anchor="start"  stroke="#262626" stroke-width="0.22">5.</text>
<text x="773.0" y="160.6" textLength="12.4" lengthAdjust="spacingAndGlyphs" font-family="'Liberation Sans', sans-serif" font-size="9.2" fill="#262626" font-weight="400" text-anchor="start"  stroke="#262626" stroke-width="0.22">ALL</text>
<text x="791.1" y="160.6" textLength="47.5" lengthAdjust="spacingAndGlyphs" font-family="'Liberation Sans', sans-serif" font-size="9.2" fill="#262626" font-weight="400" text-anchor="start"  stroke="#262626" stroke-width="0.22">DIMENSIONS</text>
<text x="844.7" y="160.6" textLength="9.5" lengthAdjust="spacingAndGlyphs" font-family="'Liberation Sans', sans-serif" font-size="9.2" fill="#262626" font-weight="400" text-anchor="start"  stroke="#262626" stroke-width="0.22">TO</text>
<text x="859.9" y="160.6" textLength="9.1" lengthAdjust="spacingAndGlyphs" font-family="'Liberation Sans', sans-serif" font-size="9.2" fill="#262626" font-weight="400" text-anchor="start"  stroke="#262626" stroke-width="0.22">BE</text>
<text x="875.1" y="160.6" textLength="20.1" lengthAdjust="spacingAndGlyphs" font-family="'Liberation Sans', sans-serif" font-size="9.2" fill="#262626" font-weight="400" text-anchor="start"  stroke="#262626" stroke-width="0.22">FIELD</text>
<text x="900.9" y="160.6" textLength="30.8" lengthAdjust="spacingAndGlyphs" font-family="'Liberation Sans', sans-serif" font-size="9.2" fill="#262626" font-weight="400" text-anchor="start"  stroke="#262626" stroke-width="0.22">VERIFIED</text>
<text x="773.6" y="170.5" textLength="22.8" lengthAdjust="spacingAndGlyphs" font-family="'Liberation Sans', sans-serif" font-size="9.2" fill="#262626" font-weight="400" text-anchor="start"  stroke="#262626" stroke-width="0.22">PRIOR</text>
<text x="802.5" y="170.5" textLength="9.5" lengthAdjust="spacingAndGlyphs" font-family="'Liberation Sans', sans-serif" font-size="9.2" fill="#262626" font-weight="400" text-anchor="start"  stroke="#262626" stroke-width="0.22">TO</text>
<text x="818.7" y="170.5" textLength="14.6" lengthAdjust="spacingAndGlyphs" font-family="'Liberation Sans', sans-serif" font-size="9.2" fill="#262626" font-weight="400" text-anchor="start"  stroke="#262626" stroke-width="0.22">ANY</text>
<text x="841.5" y="170.5" textLength="61.7" lengthAdjust="spacingAndGlyphs" font-family="'Liberation Sans', sans-serif" font-size="9.2" fill="#262626" font-weight="400" text-anchor="start"  stroke="#262626" stroke-width="0.22">CONSTRUCTION.</text>
<text x="772.6" y="228.9" textLength="26.1" lengthAdjust="spacingAndGlyphs" font-family="'Liberation Sans', sans-serif" font-size="11.4" fill="#262626" font-weight="400" text-anchor="start"  stroke="#262626" stroke-width="0.22">AREA</text>
<text x="808.2" y="228.9" textLength="79.2" lengthAdjust="spacingAndGlyphs" font-family="'Liberation Sans', sans-serif" font-size="11.4" fill="#262626" font-weight="400" text-anchor="start"  stroke="#262626" stroke-width="0.22">CALCULATIONS:</text>
<path d="M772.60,230.40 L887.40,230.40" fill="none" stroke="#262626" stroke-width="0.9" />
<text x="773.5" y="244.6" textLength="19.8" lengthAdjust="spacingAndGlyphs" font-family="'Liberation Sans', sans-serif" font-size="9.4" fill="#262626" font-weight="400" text-anchor="start"  stroke="#262626" stroke-width="0.22">SUITE</text>
<text x="800.0" y="244.6" textLength="17.6" lengthAdjust="spacingAndGlyphs" font-family="'Liberation Sans', sans-serif" font-size="9.4" fill="#262626" font-weight="400" text-anchor="start"  stroke="#262626" stroke-width="0.22">1710</text>
<text x="824.3" y="244.6" textLength="19.9" lengthAdjust="spacingAndGlyphs" font-family="'Liberation Sans', sans-serif" font-size="9.4" fill="#262626" font-weight="400" text-anchor="start"  stroke="#262626" stroke-width="0.22">AREA</text>
<text x="857.2" y="244.6" textLength="30.6" lengthAdjust="spacingAndGlyphs" font-family="'Liberation Sans', sans-serif" font-size="9.4" fill="#262626" font-weight="400" text-anchor="start"  stroke="#262626" stroke-width="0.22">1775.79</text>
<text x="895.0" y="244.6" textLength="11.7" lengthAdjust="spacingAndGlyphs" font-family="'Liberation Sans', sans-serif" font-size="9.4" fill="#262626" font-weight="400" text-anchor="start"  stroke="#262626" stroke-width="0.22">SQ.</text>
<text x="913.9" y="244.6" textLength="10.2" lengthAdjust="spacingAndGlyphs" font-family="'Liberation Sans', sans-serif" font-size="9.4" fill="#262626" font-weight="400" text-anchor="start"  stroke="#262626" stroke-width="0.22">FT.</text>
<path d="M925.9,573.5 L925.9,399.2 Q925.9,396.3 928.8,396.3 L981.6,396.3 Q984.5,396.3 984.5,399.2 L984.5,629.2 Q984.5,632.1 981.6,632.1 L811.4,632.1 Q808.4,632.1 808.4,629.1 L808.4,576.5 Q808.4,573.5 811.4,573.5 L888.8,573.5 L888.8,533.0 Q888.8,529.5 892.3,529.5 L925.9,529.5" fill="none" stroke="#3a3a3a" stroke-width="1.1"/>
<path d="M925.90,445.50 L984.50,445.50" fill="none" stroke="#3a3a3a" stroke-width="1.1" />
<path d="M925.90,501.10 L984.50,501.10" fill="none" stroke="#3a3a3a" stroke-width="1.1" />
<path d="M925.90,562.30 L984.50,562.30" fill="none" stroke="#3a3a3a" stroke-width="1.1" />
<path d="M925.90,573.50 L925.90,632.10" fill="none" stroke="#3a3a3a" stroke-width="1.1" />
<path d="M888.80,573.50 L925.90,573.50" fill="none" stroke="#3a3a3a" stroke-width="1.1" />
<path d="M842.10,573.50 L842.10,617.25" fill="none" stroke="#3a3a3a" stroke-width="1.1" />
<path d="M888.60,573.50 L888.60,609.00" fill="none" stroke="#3a3a3a" stroke-width="1.1" />
<path d="M906.30,573.50 L906.30,632.10" fill="none" stroke="#3a3a3a" stroke-width="1.1" />
<path d="M842.10,582.50 L906.30,582.50" fill="none" stroke="#3a3a3a" stroke-width="1.1" />
<path d="M842.10,591.50 L906.30,591.50" fill="none" stroke="#3a3a3a" stroke-width="1.1" />
<path d="M842.10,600.40 L906.30,600.40" fill="none" stroke="#3a3a3a" stroke-width="1.1" />
<path d="M842.10,609.00 L906.30,609.00" fill="none" stroke="#3a3a3a" stroke-width="1.1" />
<path d="M808.40,617.25 L906.30,617.25" fill="none" stroke="#3a3a3a" stroke-width="1.1" />
<path d="M858.50,617.25 L858.50,632.10" fill="none" stroke="#3a3a3a" stroke-width="1.1" />
<text x="943.6" y="403.9" textLength="24.6" lengthAdjust="spacingAndGlyphs" font-family="'Liberation Sans', sans-serif" font-size="5.6" fill="#555" font-weight="400" text-anchor="start" font-style="italic">PROJECT:</text>
<text x="939.0" y="412.6" textLength="34.0" lengthAdjust="spacingAndGlyphs" font-family="'Liberation Sans', sans-serif" font-size="10.2" fill="#444" font-weight="400" text-anchor="start" >505</text>
<text x="931.6" y="423.1" textLength="49.6" lengthAdjust="spacingAndGlyphs" font-family="'Liberation Sans', sans-serif" font-size="11.3" fill="#444" font-weight="400" text-anchor="start" >MARQUETTE</text>
<text x="931.6" y="432.8" textLength="49.6" lengthAdjust="spacingAndGlyphs" font-family="'Liberation Sans', sans-serif" font-size="10.2" fill="#444" font-weight="400" text-anchor="start" >AVE. NW</text>
<text x="931.6" y="442.8" textLength="49.6" lengthAdjust="spacingAndGlyphs" font-family="'Liberation Sans', sans-serif" font-size="10.3" fill="#444" font-weight="400" text-anchor="start" >SUITE 1710</text>
<text x="937.1" y="453.9" textLength="36.6" lengthAdjust="spacingAndGlyphs" font-family="'Liberation Sans', sans-serif" font-size="5.8" fill="#555" font-weight="400" text-anchor="start" font-style="italic">DESCRIPTION:</text>
<text x="931.0" y="465.3" textLength="49.8" lengthAdjust="spacingAndGlyphs" font-family="'Liberation Sans', sans-serif" font-size="10.0" fill="#444" font-weight="400" text-anchor="start" >AS-BUILT</text>
<text x="931.0" y="475.9" textLength="49.8" lengthAdjust="spacingAndGlyphs" font-family="'Liberation Sans', sans-serif" font-size="10.0" fill="#444" font-weight="400" text-anchor="start" >DRAWING</text>
<text x="946.1" y="509.9" textLength="19.3" lengthAdjust="spacingAndGlyphs" font-family="'Liberation Sans', sans-serif" font-size="5.8" fill="#555" font-weight="400" text-anchor="start" font-style="italic">CLIENT:</text>
<text x="931.0" y="533.5" textLength="50.2" lengthAdjust="spacingAndGlyphs" font-family="'Liberation Sans', sans-serif" font-size="10.8" fill="#444" font-weight="400" text-anchor="start" >LOTUS OFFICE</text>
<text x="931.0" y="543.4" textLength="50.2" lengthAdjust="spacingAndGlyphs" font-family="'Liberation Sans', sans-serif" font-size="10.0" fill="#444" font-weight="400" text-anchor="start" >MANAGEMENT</text>
<text x="898.4" y="535.7" textLength="21.7" lengthAdjust="spacingAndGlyphs" font-family="'Liberation Sans', sans-serif" font-size="5.6" fill="#555" font-weight="400" text-anchor="start" font-style="italic">SHEET #</text>
<text x="897.5" y="555.7" textLength="22.0" lengthAdjust="spacingAndGlyphs" font-family="'Liberation Sans', sans-serif" font-size="22.4" fill="#111" font-weight="400" text-anchor="start" >01</text>
<text x="893.8" y="570.6" textLength="6.6" lengthAdjust="spacingAndGlyphs" font-family="'Liberation Sans', sans-serif" font-size="5.2" fill="#555" font-weight="400" text-anchor="start" font-style="italic">OF</text>
<text x="905.4" y="570.6" textLength="11.6" lengthAdjust="spacingAndGlyphs" font-family="'Liberation Sans', sans-serif" font-size="11.2" fill="#111" font-weight="400" text-anchor="start" >01</text>
<text x="811.9" y="579.0" textLength="28.1" lengthAdjust="spacingAndGlyphs" font-family="'Liberation Sans', sans-serif" font-size="4.6" fill="#555" font-weight="400" text-anchor="start" font-style="italic">ORIENTATION</text>
<text x="844.4" y="580.9" textLength="37.5" lengthAdjust="spacingAndGlyphs" font-family="'Liberation Sans', sans-serif" font-size="6.5" fill="#555" font-weight="400" text-anchor="start" font-style="italic">MEASURED BY</text>
<text x="895.6" y="580.9" textLength="5.4" lengthAdjust="spacingAndGlyphs" font-family="'Liberation Sans', sans-serif" font-size="6.3" fill="#555" font-weight="400" text-anchor="start" font-style="italic">JR</text>
<text x="844.4" y="590.0" textLength="35.6" lengthAdjust="spacingAndGlyphs" font-family="'Liberation Sans', sans-serif" font-size="6.5" fill="#555" font-weight="400" text-anchor="start" font-style="italic">DESIGNED BY</text>
<text x="892.1" y="590.0" textLength="10.4" lengthAdjust="spacingAndGlyphs" font-family="'Liberation Sans', sans-serif" font-size="6.3" fill="#555" font-weight="400" text-anchor="start" font-style="italic">N.A.</text>
<text x="844.4" y="598.8" textLength="32.5" lengthAdjust="spacingAndGlyphs" font-family="'Liberation Sans', sans-serif" font-size="6.5" fill="#555" font-weight="400" text-anchor="start" font-style="italic">DRAFTED BY</text>
<text x="895.6" y="598.8" textLength="5.4" lengthAdjust="spacingAndGlyphs" font-family="'Liberation Sans', sans-serif" font-size="6.3" fill="#555" font-weight="400" text-anchor="start" font-style="italic">JR</text>
<text x="844.4" y="606.9" textLength="33.1" lengthAdjust="spacingAndGlyphs" font-family="'Liberation Sans', sans-serif" font-size="6.5" fill="#555" font-weight="400" text-anchor="start" font-style="italic">CHECKED BY</text>
<text x="892.1" y="606.9" textLength="10.4" lengthAdjust="spacingAndGlyphs" font-family="'Liberation Sans', sans-serif" font-size="6.3" fill="#555" font-weight="400" text-anchor="start" font-style="italic">P.M.</text>
<text x="844.4" y="615.6" textLength="22.5" lengthAdjust="spacingAndGlyphs" font-family="'Liberation Sans', sans-serif" font-size="6.3" fill="#555" font-weight="400" text-anchor="start" font-style="italic">REVISED:</text>
<text x="811.2" y="621.9" textLength="10.0" lengthAdjust="spacingAndGlyphs" font-family="'Liberation Sans', sans-serif" font-size="4.2" fill="#555" font-weight="400" text-anchor="start" font-style="italic">SCALE</text>
<text x="859.6" y="621.9" textLength="9.8" lengthAdjust="spacingAndGlyphs" font-family="'Liberation Sans', sans-serif" font-size="4.2" fill="#555" font-weight="400" text-anchor="start" font-style="italic">DATE</text>
<text x="815.0" y="630.6" textLength="39.4" lengthAdjust="spacingAndGlyphs" font-family="'Liberation Sans', sans-serif" font-size="9.8" fill="#555" font-weight="400" text-anchor="start" >3/16"=1'-0"</text>
<text x="865.0" y="630.3" textLength="33.1" lengthAdjust="spacingAndGlyphs" font-family="'Liberation Sans', sans-serif" font-size="9.4" fill="#555" font-weight="400" text-anchor="start" >02/10/12</text>
<text x="910.2" y="580.2"  font-family="'Liberation Sans', sans-serif" font-size="4.6" fill="#333" font-weight="700" text-anchor="middle" font-style="italic">R</text>
<text x="910.2" y="585.6"  font-family="'Liberation Sans', sans-serif" font-size="4.6" fill="#333" font-weight="700" text-anchor="middle" font-style="italic">E</text>
<text x="910.2" y="590.9"  font-family="'Liberation Sans', sans-serif" font-size="4.6" fill="#333" font-weight="700" text-anchor="middle" font-style="italic">F</text>
<text x="910.2" y="596.2"  font-family="'Liberation Sans', sans-serif" font-size="4.6" fill="#333" font-weight="700" text-anchor="middle" font-style="italic">E</text>
<text x="910.2" y="601.6"  font-family="'Liberation Sans', sans-serif" font-size="4.6" fill="#333" font-weight="700" text-anchor="middle" font-style="italic">R</text>
<text x="910.2" y="607.0"  font-family="'Liberation Sans', sans-serif" font-size="4.6" fill="#333" font-weight="700" text-anchor="middle" font-style="italic">E</text>
<text x="910.2" y="612.3"  font-family="'Liberation Sans', sans-serif" font-size="4.6" fill="#333" font-weight="700" text-anchor="middle" font-style="italic">N</text>
<text x="910.2" y="617.7"  font-family="'Liberation Sans', sans-serif" font-size="4.6" fill="#333" font-weight="700" text-anchor="middle" font-style="italic">C</text>
<text x="910.2" y="623.0"  font-family="'Liberation Sans', sans-serif" font-size="4.6" fill="#333" font-weight="700" text-anchor="middle" font-style="italic">E</text>
<text x="910.2" y="628.4"  font-family="'Liberation Sans', sans-serif" font-size="4.6" fill="#333" font-weight="700" text-anchor="middle" font-style="italic">#</text>
<text x="918.2" y="585.0"  font-family="'Liberation Sans', sans-serif" font-size="11.0" fill="#444" font-weight="400" text-anchor="middle" font-style="italic">1</text>
<text x="918.2" y="596.2"  font-family="'Liberation Sans', sans-serif" font-size="11.0" fill="#444" font-weight="400" text-anchor="middle" font-style="italic">0</text>
<text x="918.2" y="607.4"  font-family="'Liberation Sans', sans-serif" font-size="11.0" fill="#444" font-weight="400" text-anchor="middle" font-style="italic">1</text>
<text x="918.2" y="618.6"  font-family="'Liberation Sans', sans-serif" font-size="11.0" fill="#444" font-weight="400" text-anchor="middle" font-style="italic">7</text>
<text x="918.2" y="628.8"  font-family="'Liberation Sans', sans-serif" font-size="11.0" fill="#444" font-weight="400" text-anchor="middle" font-style="italic">8</text>
<text x="928.9" y="620.7" textLength="52.4" lengthAdjust="spacingAndGlyphs" font-family="'Liberation Sans', sans-serif" font-size="9.6" fill="#555" font-weight="400" text-anchor="start" font-style="italic">YCD DESIGNS</text>
<text x="930.5" y="629.2" textLength="48.6" lengthAdjust="spacingAndGlyphs" font-family="'Liberation Sans', sans-serif" font-size="8.4" fill="#555" font-weight="400" text-anchor="start" font-style="italic">505-899-1199</text>
<path d="M828.73,601.73 L833.89,606.89" fill="none" stroke="#1a1a1a" stroke-width="1.9" />
<path d="M823.07,601.73 L817.91,606.89" fill="none" stroke="#1a1a1a" stroke-width="1.9" />
<path d="M823.07,596.07 L817.91,590.91" fill="none" stroke="#1a1a1a" stroke-width="1.9" />
<path d="M828.73,596.07 L833.89,590.91" fill="none" stroke="#1a1a1a" stroke-width="1.9" />
<circle cx="825.9" cy="598.9" r="5.7" fill="#6a6a6a" stroke="#1a1a1a" stroke-width="2.1"/>
<polygon points="827.40,598.90 825.90,587.10 824.40,598.90" fill="#1a1a1a"/>
<polygon points="824.40,598.90 825.90,613.10 827.40,598.90" fill="#1a1a1a"/>
<polygon points="825.90,597.40 811.70,598.90 825.90,600.40" fill="#1a1a1a"/>
<polygon points="825.90,600.40 839.10,598.90 825.90,597.40" fill="#1a1a1a"/>
<path d="M811.90,598.90 L838.90,598.90" fill="none" stroke="#1a1a1a" stroke-width="1.1" />
<path d="M825.90,587.30 L825.90,612.90" fill="none" stroke="#1a1a1a" stroke-width="1.1" />
<rect x="822.40" y="595.40" width="1.8" height="1.8" fill="#ddd"/>
<rect x="827.60" y="595.40" width="1.8" height="1.8" fill="#ddd"/>
<rect x="822.40" y="600.60" width="1.8" height="1.8" fill="#ddd"/>
<rect x="827.60" y="600.60" width="1.8" height="1.8" fill="#ddd"/>
<text x="825.9" y="586.9"  font-family="'Liberation Sans', sans-serif" font-size="6.0" fill="#111" font-weight="700" text-anchor="middle" >N</text>
<polygon points="953.49,567.31 957.82,567.31 949.06,580.92 945.24,580.92" fill="#777" opacity="0.8"/>
<polygon points="930.27,604.81 961.14,604.81 962.41,608.47 931.63,608.47" fill="#555" opacity="0.85"/>
<polygon points="973.04,595.54 981.46,604.22 978.15,608.47 975.85,604.90" fill="#888" opacity="0.7"/>
<path d="M951.79,566.80 L958.16,566.80 L981.80,604.22 L978.15,608.89 L930.95,608.89 L928.23,604.22 Z" fill="none" stroke="#1c1c1c" stroke-width="1.3" />
<path d="M928.23,604.22 L969.64,604.22 L954.76,581.68" fill="none" stroke="#1c1c1c" stroke-width="1.3" />
<path d="M964.97,598.27 L938.18,598.27 L958.16,566.80" fill="none" stroke="#1c1c1c" stroke-width="1.3" />
<path d="M944.56,598.27 L958.16,576.58 L978.15,608.89" fill="none" stroke="#1c1c1c" stroke-width="1.3" />
</svg>
</body></html>
